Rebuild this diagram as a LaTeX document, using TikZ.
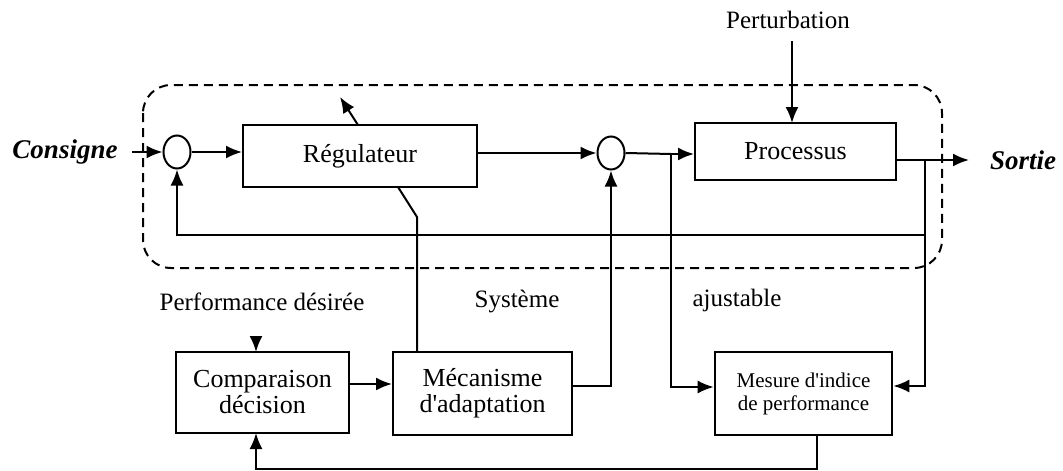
\documentclass[tikz,border=0pt]{standalone}
\usepackage{fontspec}
\setmainfont{Liberation Serif}
\usetikzlibrary{arrows.meta, shapes.geometric, positioning}

\begin{document}
\begin{tikzpicture}[x=1pt, y=-1pt, >={Latex[length=16pt,width=13pt]},
    line width=2pt,
    bloc/.style={draw, rectangle, align=center, font=\fontsize{26}{30}\selectfont},
    somme/.style={draw, ellipse, minimum width=27pt, minimum height=33pt, inner sep=0pt},
    etiq/.style={font=\fontsize{25}{29}\selectfont},
    signal/.style={font=\fontsize{27}{31}\selectfont\bfseries\itshape}]
    \useasboundingbox (0,0) rectangle (1063,471);

    % 1. Boucle principale
    \node[signal] (consigne) at (65,152) {Consigne};
    \node[somme] (s1) at (177,152) {};
    \node[bloc, minimum width=234pt, minimum height=62pt] (reg) at (360,156) {Régulateur};
    \node[somme] (s2) at (611,153) {};
    \node[bloc, minimum width=201pt, minimum height=57pt] (proc) at (795.5,151.5) {Processus};
    \node[signal] (sortie) at (1023,160) {Sortie};
    \node[etiq] (pert) at (788,20) {Perturbation};

    % 2. Blocs d'adaptation
    \node[bloc, minimum width=173pt, minimum height=81pt] (comp) at (262.5,392.5) {Comparaison\\[-4pt]décision};
    \node[bloc, minimum width=179pt, minimum height=83pt] (meca) at (482.5,393.5) {Mécanisme\\[-4pt]d\textquotesingle adaptation};
    \node[bloc, line width=2.6pt, minimum width=177pt, minimum height=83pt,
        font=\fontsize{21}{25}\selectfont] (mesure) at (803.5,393.5) {Mesure d\textquotesingle indice\\[-2pt]de performance};
    \node[etiq] (perfdes) at (262,302) {Performance désirée};
    \node[etiq] (syst) at (517,302) {Système};
    \node[etiq] (ajust) at (737,300) {ajustable};

    % 3. Système ajustable (cadre pointillé)
    \draw[dash pattern=on 9pt off 6pt, rounded corners=28pt] (143,85) rectangle (942,268);

    % 4. Liaisons
    \coordinate (j1) at (671,154);
    \coordinate (j2) at (925,160);
    \coordinate (fin) at (969,160);
    \draw[->] ([xshift=10pt]consigne.east) -- (s1.west);
    \draw[->] (s1.east) -- (s1.east -| reg.west);
    \draw[->] (reg.east |- s2.west) -- (s2.west);
    \draw (s2.east) -- (j1);
    \draw[->] (j1) -- (j1 -| proc.west);
    \draw (proc.east |- fin) -- (j2);
    \draw[->] (j2) -- (fin);
    \draw[->] (pert.south -| 792,0) ++(0,8) -- (792,123);
    \draw[->] (358,125) -- (340,97);
    \draw (398,187) -- (417,217) -- (417,352);

    % 5. Retours
    \draw[->] (j2 |- 0,235) -- (s1.south |- 0,235) -- (s1.south);
    \draw[->] (j2) -- (925,386) -- (mesure.east |- 0,386);
    \draw[->] (j1) -- (671,387) -- (mesure.west |- 0,387);
    \draw[->] (meca.east |- 0,386) -- (s2.south |- 0,386) -- (s2.south);
    \draw[->] (comp.east |- 0,384) -- (meca.west |- 0,384);
    \draw[->] (817,435) -- (817,469) -- (256,469) -- (256,433);
    \draw[->] (256,338) -- (256,352);
\end{tikzpicture}
\end{document}
